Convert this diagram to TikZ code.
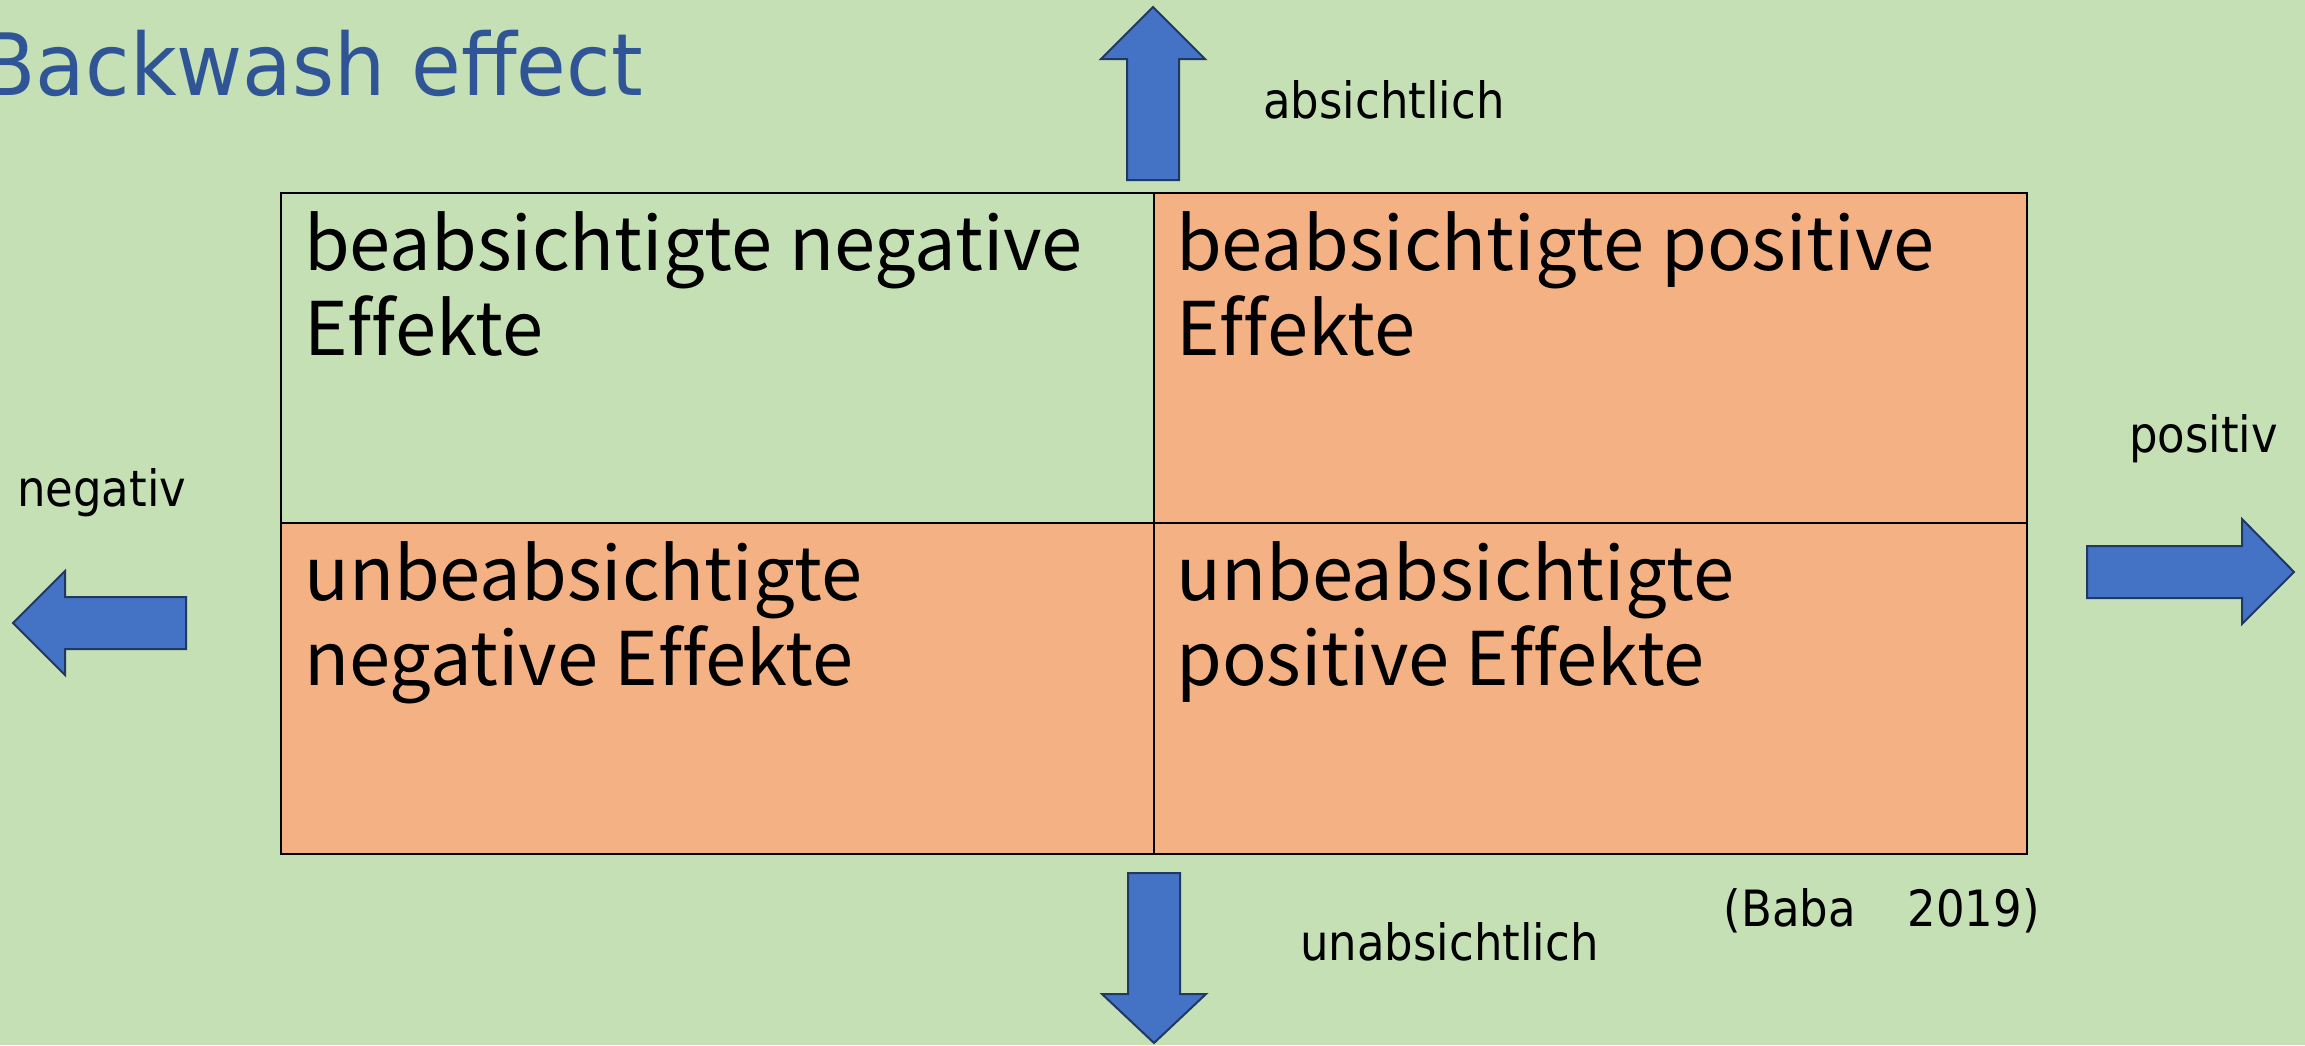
\documentclass[tikz,border=0pt]{standalone}
\usepackage{fontspec}
\setmainfont{DejaVu Sans}
\newfontfamily\labfont[FakeStretch=0.9]{DejaVu Sans}
\newfontfamily\titlefont[FakeStretch=0.94]{DejaVu Sans}
\newfontfamily\cellfont[Ligatures=NoCommon]{Noto Sans CJK JP}
\definecolor{bggreen}{HTML}{C5E0B4}
\definecolor{cellorange}{HTML}{F4B183}
\definecolor{arrowblue}{HTML}{4472C4}
\definecolor{arrowedge}{HTML}{203864}
\definecolor{titleblue}{HTML}{2F5597}
\tikzset{
  blockarrow/.style={fill=arrowblue, draw=arrowedge, line width=2pt, line join=miter},
  cell/.style={draw=black, line width=2.5pt},
  celltext/.style={anchor=base west, inner sep=0pt, font=\cellfont\fontsize{74}{85}\selectfont},
  axislabel/.style={inner sep=0pt, font=\labfont\fontsize{50}{60}\selectfont},
}
\begin{document}
\begin{tikzpicture}[x=1pt,y=-1pt]
  % page and background
  \fill[bggreen] (0,0) rectangle (2305,1045);
  \useasboundingbox (0,0) rectangle (2305,1045);

  % title
  \node[anchor=base east, inner sep=0pt, text=titleblue,
        font=\titlefont\fontsize{86}{100}\selectfont] (title) at (643,95) {Backwash effect};

  % four quadrants
  \fill[cellorange] (1154,193) rectangle (2027,523);
  \fill[cellorange] (281,523) rectangle (2027,854);
  \draw[cell] (281,193) rectangle (2027,854);
  \draw[cell] (1154,193) -- (1154,854);
  \draw[cell] (281,523) -- (2027,523);

  % quadrant texts
  \node[celltext] (tl1) at (304,270) {beabsichtigte negative};
  \node[celltext] (tl2) at (304,355) {Effekte};
  \node[celltext] (tr1) at (1176,270) {beabsichtigte positive};
  \node[celltext] (tr2) at (1176,355) {Effekte};
  \node[celltext] (bl1) at (304,600) {unbeabsichtigte};
  \node[celltext] (bl2) at (304,685) {negative Effekte};
  \node[celltext] (br1) at (1176,600) {unbeabsichtigte};
  \node[celltext] (br2) at (1176,685) {positive Effekte};

  % block arrows
  \draw[blockarrow] (1127,180) -- (1127,59) -- (1101,59) -- (1153,7) -- (1205,59)
        -- (1179,59) -- (1179,180) -- cycle;
  \draw[blockarrow] (1128,873) -- (1180,873) -- (1180,994) -- (1206,994) -- (1154,1043)
        -- (1102,994) -- (1128,994) -- cycle;
  \draw[blockarrow] (186,597) -- (65,597) -- (65,571) -- (13,623) -- (65,675)
        -- (65,649) -- (186,649) -- cycle;
  \draw[blockarrow] (2087,546) -- (2242,546) -- (2242,519) -- (2294,572) -- (2242,624)
        -- (2242,598) -- (2087,598) -- cycle;

  % axis labels
  \node[axislabel, anchor=base west] (up) at (1263,118) {absichtlich};
  \node[axislabel, anchor=base west] (down) at (1300,960) {unabsichtlich};
  \node[axislabel, anchor=base west] (left) at (17,506) {negativ};
  \node[axislabel, anchor=base west] (right) at (2129,452) {positiv};
  \node[axislabel, anchor=base east] (source) at (2040,926) {(Baba\hspace{52pt}2019)};
\end{tikzpicture}
\end{document}
